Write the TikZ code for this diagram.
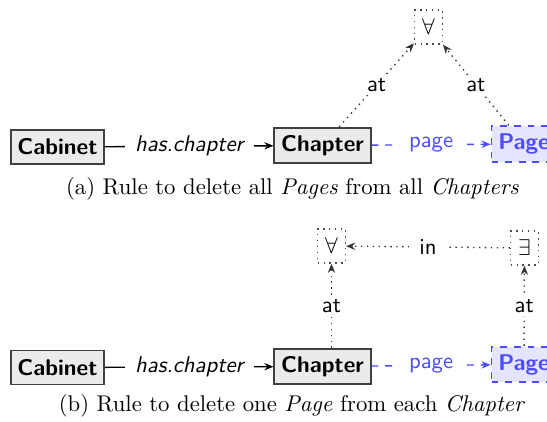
\documentclass[tikz,border=0pt]{standalone}
\usepackage{xcolor}
\usepackage{tikz}
\usetikzlibrary{arrows.meta}

\begin{document}
\begin{tikzpicture}[font=\sffamily,>={Stealth[length=4pt,width=3.2pt]},x=0.44pt,y=-0.44pt,
  cls/.style={rectangle,fill=black!8,draw=black!75,line width=0.8pt,font=\sffamily\bfseries,inner xsep=3pt,minimum height=15pt},
  newcls/.style={rectangle,fill=blue!10,draw=blue!70,text=blue!70,dashed,line width=0.8pt,font=\sffamily\bfseries,inner xsep=3pt,minimum height=15pt},
  quant/.style={rectangle,draw=black!70,dotted,line width=0.6pt,minimum height=15pt,minimum width=12pt},
  lbl/.style={fill=white,inner xsep=4.5pt,inner ysep=1.5pt},
  assoc/.style={->,draw=black,line width=0.6pt},
  newassoc/.style={->,draw=blue!70,dashed,line width=0.6pt,text=blue!70},
  scope/.style={->,draw=black!80,dotted,line width=0.6pt}]
\useasboundingbox (0,0) rectangle (547,421);

% (a) all pages of all chapters
\node[cls] (cab1) at (57.5,147) {Cabinet};
\node[cls] (chap1) at (322.5,145.5) {Chapter};
\node[newcls] (page1) at (524,144) {Page};
\node[quant] (all1) at (428.5,27) {$\forall$};
\draw[assoc] (cab1) -- node[lbl] {\itshape has.chapter} (chap1);
\draw[newassoc] (chap1) -- node[lbl] {page} (page1);
\draw[scope] (chap1) -- node[lbl] {at} (all1);
\draw[scope] (page1) -- node[lbl] {at} (all1);
\node[font=\rmfamily] (capa) at (292.5,189) {(a) Rule to delete all \textit{Pages} from all \textit{Chapters}};

% (b) one page of each chapter
\node[cls] (cab2) at (57.5,367.5) {Cabinet};
\node[cls] (chap2) at (322.5,366.5) {Chapter};
\node[newcls] (page2) at (524,364.5) {Page};
\node[quant] (all2) at (331.5,246) {$\forall$};
\node[quant] (ex2) at (524.5,248) {$\exists$};
\draw[assoc] (cab2) -- node[lbl] {\itshape has.chapter} (chap2);
\draw[newassoc] (chap2) -- node[lbl] {page} (page2);
\draw[scope] (all2 |- chap2.north) -- node[lbl] {at} (all2);
\draw[scope] (page2) -- node[lbl] {at} (ex2);
\draw[scope] (ex2) -- node[lbl] {in} (all2);
\node[font=\rmfamily] (capb) at (292,406) {(b) Rule to delete one \textit{Page} from each \textit{Chapter}};
\end{tikzpicture}
\end{document}
